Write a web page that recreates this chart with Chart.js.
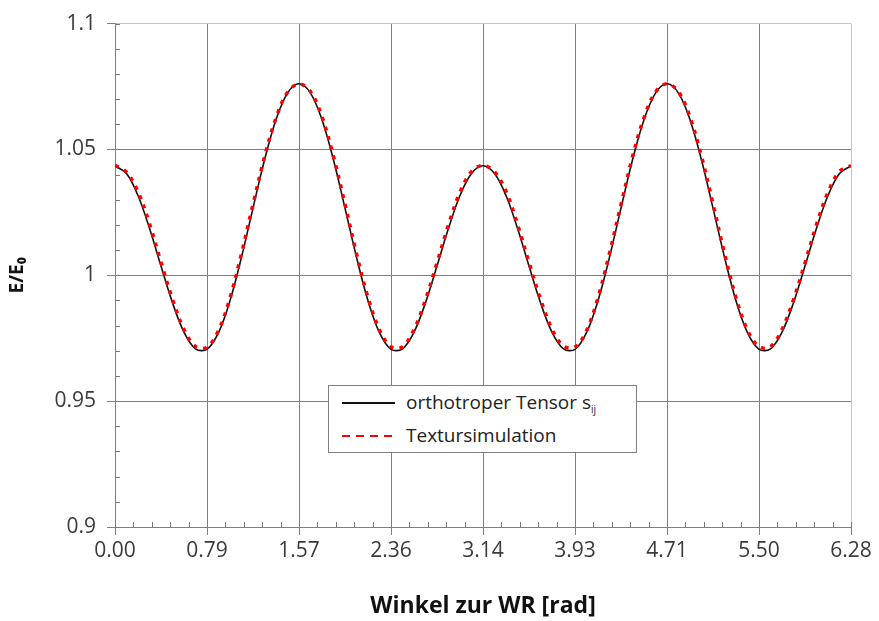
<!DOCTYPE html>
<html>
<head>
<meta charset="utf-8">
<script src="https://cdn.jsdelivr.net/npm/chart.js@4.4.1/dist/chart.umd.min.js"></script>
<style>
  html, body { margin: 0; padding: 0; background: #fff; }
  #wrap { position: relative; width: 879px; height: 621px; }
  #legend {
    position: absolute; left: 328px; top: 385px; width: 307px; height: 66px;
    border: 1px solid #808080; background: #fff;
    font-family: "Open Sans", sans-serif; font-size: 19px; color: #222;
  }
  .row { position: absolute; left: 0; height: 24px; width: 100%; }
  .row .sample { position: absolute; left: 13px; width: 53px; top: 11px; }
  .row .label { position: absolute; left: 77px; top: -1px; white-space: nowrap; line-height: 24px; }
  .row .label sub { font-size: 10px; vertical-align: -4px; }
</style>
</head>
<body>
<div id="wrap">
  <canvas id="c" width="879" height="621"></canvas>
  <div id="legend">
    <div class="row" style="top:5px">
      <div class="sample" style="border-top:2px solid #111"></div>
      <div class="label">orthotroper Tensor s<sub>ij</sub></div>
    </div>
    <div class="row" style="top:38px">
      <div class="sample" style="height:2px;background:repeating-linear-gradient(90deg,#ff0000 0 8px,transparent 8px 14px)"></div>
      <div class="label">Textursimulation</div>
    </div>
  </div>
</div>
<script>
// ---- data ----
const seriesNames = ['orthotroper Tensor s_ij', 'Textursimulation'];

// E/E0 of the orthotropic tensor, sampled every pi/32 rad from 0 to 2*pi
const tensorValues = [
  1.0435, 1.0404, 1.0317, 1.0187, 1.0037, 0.9891, 0.9774, 0.9708, 0.9706, 0.9772, 0.9899,
  1.0072, 1.0267, 1.0458, 1.0618, 1.0724, 1.0761, 1.0724, 1.0618, 1.0458, 1.0267, 1.0072,
  0.9899, 0.9772, 0.9706, 0.9708, 0.9774, 0.9891, 1.0037, 1.0187, 1.0317, 1.0404, 1.0435,
  1.0404, 1.0317, 1.0187, 1.0037, 0.9891, 0.9774, 0.9708, 0.9706, 0.9772, 0.9899,
  1.0072, 1.0267, 1.0458, 1.0618, 1.0724, 1.0761, 1.0724, 1.0618, 1.0458, 1.0267, 1.0072,
  0.9899, 0.9772, 0.9706, 0.9708, 0.9774, 0.9891, 1.0037, 1.0187, 1.0317, 1.0404, 1.0435
];

// E/E0 of the texture simulation, same angles
const simulationValues = [
  1.0437, 1.0410, 1.0332, 1.0205, 1.0052, 0.9905, 0.9785, 0.9718, 0.9714, 0.9781, 0.9910,
  1.0087, 1.0282, 1.0470, 1.0625, 1.0727, 1.0760, 1.0730, 1.0630, 1.0472, 1.0283, 1.0086,
  0.9912, 0.9783, 0.9716, 0.9716, 0.9784, 0.9903, 1.0050, 1.0201, 1.0331, 1.0412, 1.0437,
  1.0411, 1.0334, 1.0203, 1.0051, 0.9906, 0.9786, 0.9719, 0.9715, 0.9780, 0.9911,
  1.0088, 1.0281, 1.0471, 1.0626, 1.0728, 1.0761, 1.0729, 1.0629, 1.0473, 1.0284, 1.0087,
  0.9911, 0.9782, 0.9716, 0.9717, 0.9785, 0.9904, 1.0049, 1.0202, 1.0330, 1.0413, 1.0436
];

const angleStep = Math.PI / 32;   // sampling step of both series [rad]

const xTickValues = [0, 0.7854, 1.5708, 2.3562, 3.1416, 3.9270, 4.7124, 5.4978, 6.2832];
const xTickLabels = ['0.00', '0.79', '1.57', '2.36', '3.14', '3.93', '4.71', '5.50', '6.28'];
const yTickValues = [0.9, 0.95, 1.0, 1.05, 1.1];
const yTickLabels = ['0.9', '0.95', '1', '1.05', '1.1'];
const xMinorStep = Math.PI / 20;
const yMinorStep = 0.01;

const xTitle = 'Winkel zur WR [rad]';
const yTitle = 'E/E\u2080';

// ---- chart ----
const X_MIN = 0, X_MAX = 6.2832, Y_MIN = 0.9, Y_MAX = 1.1;
const toPoints = vals => vals.map((v, i) => ({ x: i * angleStep, y: v }));

const minorTicks = {
  id: 'minorTicks',
  afterDatasetsDraw(chart) {
    const { ctx, scales: { x, y } } = chart;
    ctx.save();
    ctx.strokeStyle = '#7a7a7a';
    ctx.lineWidth = 1;
    ctx.beginPath();
    for (let v = Y_MIN; v <= Y_MAX + 1e-9; v += yMinorStep) {
      const py = Math.round(y.getPixelForValue(v)) + 0.5;
      ctx.moveTo(x.left, py); ctx.lineTo(x.left + 5, py);
    }
    for (let v = X_MIN; v <= X_MAX + 1e-6; v += xMinorStep) {
      const px = Math.round(x.getPixelForValue(v)) + 0.5;
      ctx.moveTo(px, y.bottom); ctx.lineTo(px, y.bottom - 5);
    }
    ctx.stroke();
    ctx.restore();
  }
};

new Chart(document.getElementById('c'), {
  type: 'line',
  data: {
    datasets: [
      {
        label: seriesNames[0],
        data: toPoints(tensorValues),
        borderColor: '#111111',
        borderWidth: 1.6,
        pointRadius: 0,
        tension: 0.35,
        order: 1
      },
      {
        label: seriesNames[1],
        data: toPoints(simulationValues),
        borderColor: '#ff0000',
        borderWidth: 3.5,
        borderDash: [4, 6],
        pointRadius: 0,
        tension: 0.35,
        order: 0
      }
    ]
  },
  options: {
    responsive: false,
    animation: false,
    layout: { padding: { left: 0, right: 28, top: 20, bottom: 0 } },
    plugins: { legend: { display: false }, tooltip: { enabled: false } },
    scales: {
      x: {
        type: 'linear',
        min: X_MIN, max: X_MAX,
        afterBuildTicks: s => { s.ticks = xTickValues.map(v => ({ value: v })); },
        afterFit: s => { s.height = 94; },
        ticks: {
          autoSkip: false, maxRotation: 0, padding: 3,
          color: '#3a3a3a',
          font: { family: 'Open Sans', size: 21 },
          callback: (v, i) => xTickLabels[i]
        },
        grid: {
          color: c => (c.tick && c.tick.value >= X_MAX - 1e-6) ? '#c4c4c4' : '#808080',
          lineWidth: 1,
          drawTicks: true, tickLength: 8, tickColor: '#808080'
        },
        border: { color: '#808080', width: 1 },
        title: {
          display: true, text: xTitle, color: '#111',
          font: { family: 'Open Sans', size: 23, weight: 'bold' },
          padding: { top: 0, bottom: 1 }
        }
      },
      y: {
        type: 'linear',
        min: Y_MIN, max: Y_MAX,
        afterBuildTicks: s => { s.ticks = yTickValues.map(v => ({ value: v })); },
        afterFit: s => { s.width = 115; },
        ticks: {
          padding: 11,
          color: '#3a3a3a',
          font: { family: 'Open Sans', size: 21 },
          callback: (v, i) => yTickLabels[i]
        },
        grid: {
          color: c => (c.tick && c.tick.value >= Y_MAX - 1e-6) ? '#c4c4c4' : '#808080',
          lineWidth: 1,
          drawTicks: true, tickLength: 8, tickColor: '#808080'
        },
        border: { color: '#808080', width: 1 },
        title: {
          display: true, text: yTitle, color: '#111',
          font: { family: 'Open Sans', size: 19, weight: 'bold' },
          padding: { top: 6, bottom: 0 }
        }
      }
    }
  },
  plugins: [minorTicks]
});
</script>
</body>
</html>
